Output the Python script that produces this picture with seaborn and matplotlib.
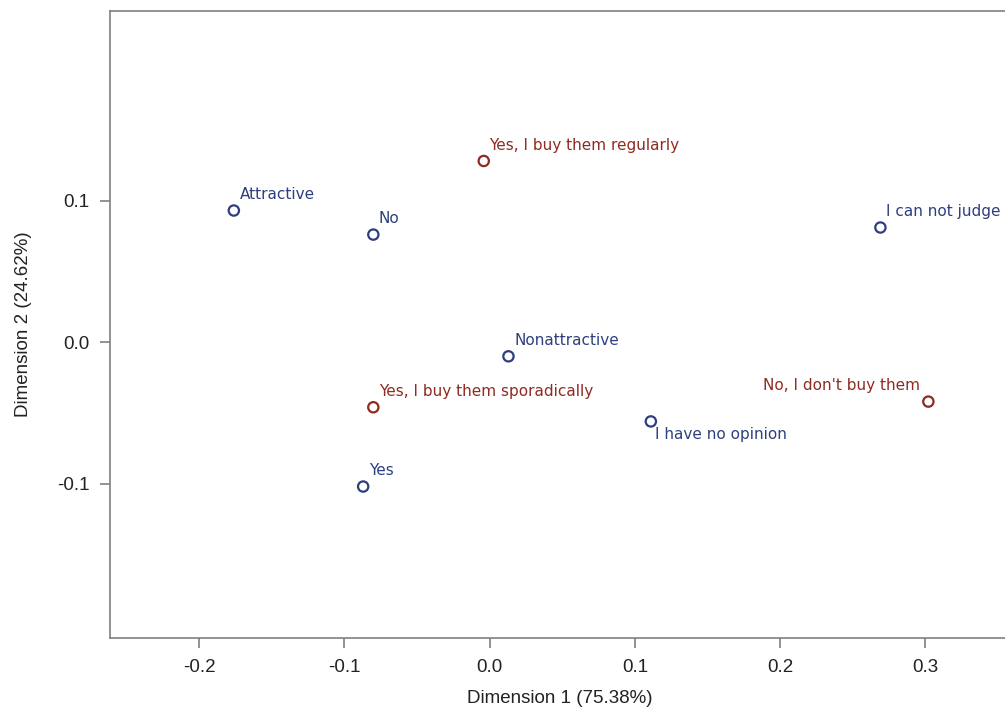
import numpy as np
import pandas as pd
import matplotlib
matplotlib.use('Agg')
import matplotlib.pyplot as plt
import seaborn as sns

# correspondence analysis coordinates
labels = ['Attractive', 'No', 'Yes, I buy them regularly', 'I can not judge',
          'Nonattractive', 'Yes, I buy them sporadically', "No, I don't buy them",
          'I have no opinion', 'Yes']
dim1 = [-0.176, -0.080, -0.004, 0.269, 0.013, -0.080, 0.302, 0.111, -0.087]
dim2 = [0.093, 0.076, 0.128, 0.081, -0.010, -0.046, -0.042, -0.056, -0.102]
group = ['col', 'col', 'row', 'col', 'col', 'row', 'row', 'col', 'col']

df = pd.DataFrame({'label': labels, 'dim1': dim1, 'dim2': dim2, 'group': group})

colors = {'col': '#2E3F80', 'row': '#8E2B22'}

sns.set_style('white')
plt.rcParams['font.family'] = ['Liberation Sans', 'DejaVu Sans']

fig = plt.figure(figsize=(10.05, 7.15), dpi=100)
ax = fig.add_axes([0.1095, 0.1077, 0.8955, 0.877])

sns.scatterplot(data=df, x='dim1', y='dim2', hue='group', palette=colors,
                marker='o', s=55, linewidth=1.6, legend=False, ax=ax)
# hollow markers with colored edges
coll = ax.collections[0]
coll.set_edgecolors([colors[g] for g in df['group']])
coll.set_facecolors('none')

# label placement (offset in points, alignment)
place = {
    "No, I don't buy them": ((-6, 6), 'right', 'bottom'),
    'I have no opinion': ((3, -4), 'left', 'top'),
}
for _, r in df.iterrows():
    off, ha, va = place.get(r['label'], ((4, 6), 'left', 'bottom'))
    ax.annotate(r['label'], (r['dim1'], r['dim2']), xytext=off,
                textcoords='offset points', ha=ha, va=va, fontsize=11,
                family='DejaVu Sans', color=colors[r['group']])

ax.set_xlim(-0.2612, 0.3582)
ax.set_ylim(-0.209, 0.234)
ax.set_xticks([-0.2, -0.1, 0.0, 0.1, 0.2, 0.3])
ax.set_xticklabels(['-0.2', '-0.1', '0.0', '0.1', '0.2', '0.3'])
ax.set_yticks([-0.1, 0.0, 0.1])
ax.set_yticklabels(['-0.1', '0.0', '0.1'])

for s in ax.spines.values():
    s.set_color('#808080')
    s.set_linewidth(1.2)
ax.tick_params(axis='both', direction='out', length=7, width=1.2,
               color='#808080', labelsize=13.5, labelcolor='#222222', pad=8)
ax.tick_params(bottom=True, left=True)

ax.set_xlabel('Dimension 1 (75.38%)', fontsize=13.5, color='#222222', labelpad=10)
ax.set_ylabel('Dimension 2 (24.62%)', fontsize=13.5, color='#222222', labelpad=18)

fig.savefig('out.png', dpi=100)
